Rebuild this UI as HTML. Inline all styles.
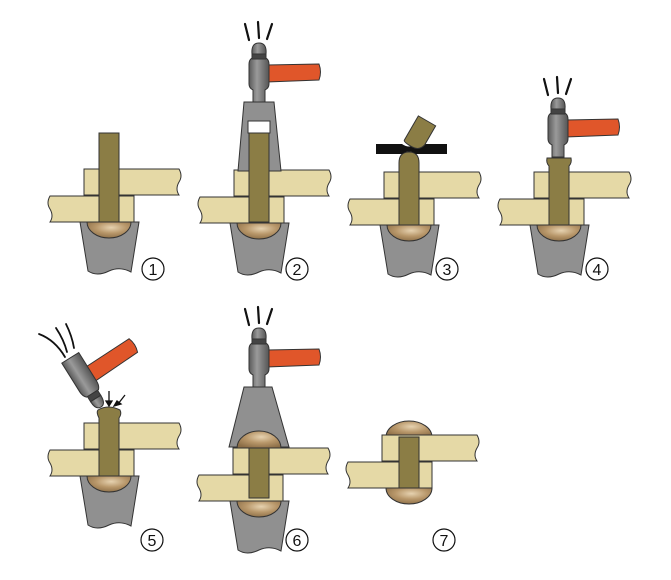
<!DOCTYPE html>
<html><head><meta charset="utf-8"><style>html,body{margin:0;padding:0;background:#fff}svg{display:block}</style></head>
<body>
<svg width="671" height="580" viewBox="0 0 671 580" xmlns="http://www.w3.org/2000/svg" font-family="Liberation Sans, sans-serif">
<defs>
<radialGradient id="dm" cx="0.55" cy="0.35" r="0.7"><stop offset="0" stop-color="#e6d2b0"/><stop offset="0.5" stop-color="#b8976a"/><stop offset="1" stop-color="#8a6c45"/></radialGradient>
<linearGradient id="hg" x1="0" x2="1"><stop offset="0" stop-color="#5a5a5a"/><stop offset="0.4" stop-color="#9a9a9a"/><stop offset="1" stop-color="#555"/></linearGradient>
<g id="dolly">
<path d="M80,222 L139,222 L131,272 Q120,266 109,271 Q97,277 88,271 Z" fill="#909090" stroke="#333" stroke-width="1"/>
<path d="M87,222 A22,16 0 0 0 131,222 Z" fill="url(#dm)" stroke="#333" stroke-width="1"/>
</g>
<g id="plates" stroke="#333" stroke-width="1" fill="#e5d9a6">
<path d="M134,196 L50,196 Q46,203 50,209 Q54,216 50,222 L134,222 Z"/>
<path d="M84,169 L179,169 Q183,176 179,182 Q175,189 179,195 L84,195 Z"/>
</g>
<g id="hammer" stroke="#333" stroke-width="1">
<path d="M8,-37 L60,-38 Q63,-30 60,-22 L8,-20 Z" fill="#e0562a"/>
<path d="M-6,0 L-6,-12 Q-10,-14 -10,-18 L-10,-38 Q-10,-42 -7,-44 L7,-44 Q10,-42 10,-38 L10,-18 Q10,-14 6,-12 L6,0 Z" fill="url(#hg)"/>
<rect x="-7" y="-48" width="14" height="5" fill="#444"/>
<path d="M-7,-48 Q-8,-59 0,-59 Q8,-59 7,-48 Z" fill="url(#hg)"/>
</g>
<g id="lines" stroke="#111" stroke-width="2.2" fill="none" stroke-linecap="round">
<path d="M-10,-18 L-14,-34"/><path d="M0,-20 L-1,-36"/><path d="M8,-19 L13,-34"/>
</g>
</defs>

<!-- Panel 1 -->
<use href="#dolly"/><use href="#plates"/>
<rect x="99" y="133" width="20" height="89" fill="#8b7d45" stroke="#333"/>

<!-- Panel 2 -->
<g transform="translate(150,1)"><use href="#dolly"/><use href="#plates"/></g>
<path d="M244,102 L274,102 L281,171 L238,171 Z" fill="#909090" stroke="#333"/>
<rect x="248" y="121" width="22" height="12" fill="#fff" stroke="#333"/>
<rect x="249" y="133" width="20" height="89" fill="#8b7d45" stroke="#333"/>
<g transform="translate(259,102)"><use href="#hammer"/><use href="#lines" transform="translate(0,-44)"/></g>

<!-- Panel 3 -->
<g transform="translate(300,3)"><use href="#dolly"/><use href="#plates"/></g>
<path d="M399,225 L399,163 Q399,152 409,152 Q419,152 419,163 L419,225 Z" fill="#8b7d45" stroke="#333"/>
<path d="M376,144 L402,144 Q409,149 416,144 L447,144 L447,154 L416,154 Q409,149 402,154 L376,154 Z" fill="#111"/>
<g transform="translate(420,133) rotate(30)"><path d="M-10,14 L-10,-14 L10,-14 L10,8 Q8,16 0,16 Q-10,16 -10,14 Z" fill="#8b7d45" stroke="#333"/></g>

<!-- Panel 4 -->
<g transform="translate(450,3)"><use href="#dolly"/><use href="#plates"/></g>
<path d="M549,225 L549,166 Q546,163 547,158 L571,158 Q572,163 569,166 L569,225 Z" fill="#8b7d45" stroke="#333"/>
<g transform="translate(558,157)"><use href="#hammer"/><use href="#lines" transform="translate(0,-44)"/></g>

<!-- Panel 5 -->
<g transform="translate(0,254)"><use href="#dolly"/><use href="#plates"/></g>
<path d="M99,476 L99,418 Q96,412 98,410 Q108,404 120,410 Q122,414 119,418 L119,476 Z" fill="#8b7d45" stroke="#333"/>
<g transform="translate(101,407) rotate(-32)">
<path d="M9,-42 L60,-43 Q63,-35 60,-27 L9,-25 Z" fill="#e0562a" stroke="#333"/>
<path d="M-10,-58 L10,-58 L10,-24 Q10,-19 7,-16 L-7,-16 Q-10,-19 -10,-24 Z" fill="url(#hg)" stroke="#333"/>
<rect x="-6" y="-16" width="12" height="6" fill="#444" stroke="#333"/>
<path d="M-6,-10 Q-6,0 0,0 Q6,0 6,-10 Z" fill="url(#hg)" stroke="#333"/>
</g>
<g stroke="#111" stroke-width="1.3" fill="#111">
<line x1="109" y1="391" x2="109" y2="403"/><path d="M106,401 L112,401 L109,406 Z"/>
<line x1="125" y1="395" x2="118" y2="404"/><path d="M114,406 L121,404 L117,401 Z"/>
</g>
<g stroke="#111" stroke-width="1.8" fill="none" stroke-linecap="round">
<path d="M39,334 Q55,340 65,357"/><path d="M56,328 Q64,340 67,352"/><path d="M66,324 Q72,336 74,348"/>
</g>

<!-- Panel 6 -->
<g transform="translate(150,279)"><use href="#dolly"/></g>
<path d="M244,387 L272,387 L289,447 L229,447 Z" fill="#909090" stroke="#333"/>
<path d="M237,448 A22,17 0 0 1 281,448 Z" fill="url(#dm)" stroke="#333"/>
<g transform="translate(149,279)"><use href="#plates"/></g>
<rect x="249" y="448" width="20" height="50" fill="#8b7d45" stroke="#333"/>
<g transform="translate(259,387)"><use href="#hammer"/><use href="#lines" transform="translate(0,-44)"/></g>

<!-- Panel 7 -->
<path d="M386,437 A23,16 0 0 1 432,437 Z" fill="url(#dm)" stroke="#333"/>
<path d="M386,488 A23,16 0 0 0 432,488 Z" fill="url(#dm)" stroke="#333"/>
<g transform="translate(298,266)"><use href="#plates"/></g>
<rect x="399" y="437" width="20" height="51" fill="#8b7d45" stroke="#333"/>

<!-- Labels -->
<g fill="#fff" stroke="#111" stroke-width="1.2">
<circle cx="153" cy="269" r="11"/><circle cx="297" cy="269" r="11"/><circle cx="447" cy="269" r="11"/><circle cx="597" cy="269" r="11"/>
<circle cx="152" cy="540" r="11"/><circle cx="297" cy="540" r="11"/><circle cx="444" cy="540" r="11"/>
</g>
<g font-size="16" text-anchor="middle" fill="#111">
<text x="153" y="275">1</text><text x="297" y="275">2</text><text x="447" y="275">3</text><text x="597" y="275">4</text>
<text x="152" y="546">5</text><text x="297" y="546">6</text><text x="444" y="546">7</text>
</g>
</svg>
</body></html>
